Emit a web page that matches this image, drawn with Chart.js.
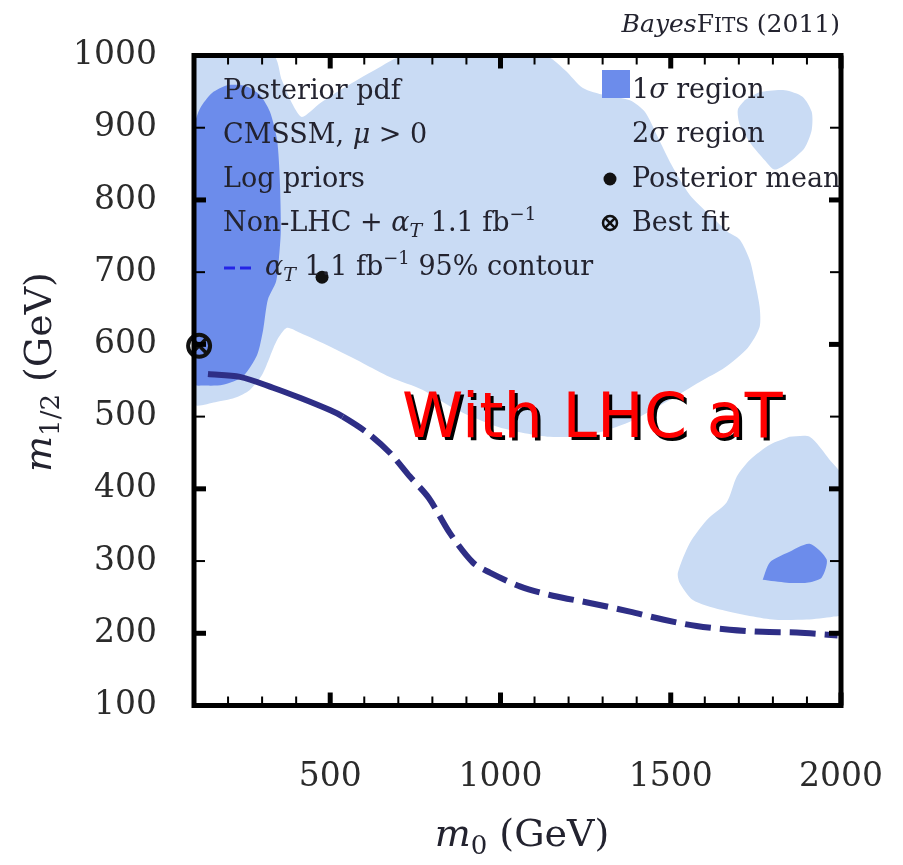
<!DOCTYPE html>
<html>
<head>
<meta charset="utf-8">
<script src="https://cdn.jsdelivr.net/npm/chart.js@4.4.0/dist/chart.umd.min.js"></script>
<style>
  html, body { margin: 0; padding: 0; background: #ffffff; }
  #wrap { width: 903px; height: 865px; }
</style>
</head>
<body>
<div id="wrap"><canvas id="c" width="903" height="865"></canvas></div>
<script>
// CMSSM posterior in the (m0, m1/2) plane, values in GeV
const X_MIN = 100, X_MAX = 2000;
const Y_MIN = 100, Y_MAX = 1000;
const xTickValues = [500, 1000, 1500, 2000];
const yTickValues = [100, 200, 300, 400, 500, 600, 700, 800, 900, 1000];

// 2 sigma credible region: large low-m0 lobe
const sigma2MainM0  = [100, 332, 358, 391, 417, 470, 543, 631, 719, 1130, 1189, 1242, 1306, 1380, 1424, 1459, 1503, 1556, 1615, 1667, 1703, 1732, 1747, 1761, 1761, 1726, 1659, 1585, 1497, 1380, 1262, 1145, 998, 872, 772, 675, 596, 499, 411, 373, 344, 323, 300, 264, 220, 162, 100, 100];
const sigma2MainM12 = [1000, 1000, 966, 931, 915, 934, 956, 980, 1000, 1000, 980, 955, 945, 938, 922, 890, 848, 807, 779, 756, 745, 717, 687, 652, 624, 595, 568, 548, 523, 493, 475, 472, 485, 509, 537, 555, 574, 597, 616, 623, 606, 583, 558, 537, 526, 520, 518, 1000];

// 2 sigma island at high m0, high m1/2
const sigma2IslandM0  = [1717, 1761, 1835, 1887, 1914, 1914, 1893, 1849, 1805, 1776, 1738, 1703, 1697, 1717];
const sigma2IslandM12 = [938, 949, 952, 943, 922, 897, 872, 853, 842, 855, 876, 904, 925, 938];

// 2 sigma lobe at high m0, low m1/2
const sigma2FocusM0  = [1849, 1908, 1967, 2000, 2000, 1976, 1899, 1799, 1644, 1565, 1526, 1521, 1556, 1606, 1664, 1694, 1732, 1791, 1849];
const sigma2FocusM12 = [472, 472, 440, 419, 226, 223, 219, 219, 233, 246, 270, 284, 325, 357, 381, 417, 440, 461, 472];

// 1 sigma credible regions
const sigma1StripM0  = [100, 118, 153, 200, 250, 294, 323, 344, 352, 355, 349, 341, 317, 303, 285, 244, 185, 126, 100, 100];
const sigma1StripM12 = [904, 927, 948, 959, 958, 945, 922, 883, 828, 758, 717, 687, 662, 620, 585, 556, 544, 543, 545, 904];
const sigma1FocusM0  = [1770, 1791, 1841, 1908, 1958, 1943, 1899, 1841, 1770];
const sigma1FocusM12 = [274, 298, 311, 324, 302, 277, 270, 270, 274];

// alphaT 1.1 fb^-1 95% exclusion contour
const contourM0  = [141, 235, 332, 411, 499, 537, 608, 675, 734, 790, 851, 919, 969, 1057, 1154, 1262, 1380, 1477, 1576, 1673, 1770, 1870, 1990];
const contourM12 = [559, 555, 540, 526, 509, 500, 478, 450, 417, 387, 339, 298, 284, 265, 252, 242, 230, 219, 210, 205, 202, 201, 197];

// posterior mean and best-fit point
const posteriorMean = [476, 693];
const bestFit = [115, 598];

const LIGHT = '#C9DBF4';
const DARK = '#6C8CEB';
const NAVY = '#2E2E86';
const TEXT = '#23232f';
const SERIF = '"DejaVu Serif", serif';

const pts = (xs, ys) => xs.map((v, i) => ({ x: v, y: ys[i] }));

function region(xs, ys, color, order) {
  return {
    data: pts(xs, ys), showLine: true, fill: 'shape',
    backgroundColor: color, borderColor: color, borderWidth: 0,
    pointRadius: 0, tension: 0.25, order
  };
}

function richText(ctx, x, y, parts, base) {
  let cx = x;
  for (const p of parts) {
    ctx.font = (p.it ? 'italic ' : '') + (p.size || base) + 'px ' + (p.fam || SERIF);
    ctx.fillText(p.t, cx, y + (p.dy || 0));
    cx += ctx.measureText(p.t).width;
  }
  return cx;
}
function richWidth(ctx, parts, base) {
  let w = 0;
  for (const p of parts) {
    ctx.font = (p.it ? 'italic ' : '') + (p.size || base) + 'px ' + (p.fam || SERIF);
    w += ctx.measureText(p.t).width;
  }
  return w;
}

const decor = {
  id: 'decor',
  afterDatasetsDraw(chart) {
    const { ctx, chartArea: a, scales: { x, y } } = chart;
    ctx.save();
    ctx.strokeStyle = '#000';
    ctx.lineCap = 'butt';
    const seg = (x1, y1, x2, y2) => { ctx.beginPath(); ctx.moveTo(x1, y1); ctx.lineTo(x2, y2); ctx.stroke(); };

    // inward tick marks on all four sides
    for (let v = X_MIN; v <= X_MAX; v += 100) {
      const px = x.getPixelForValue(v);
      const major = v % 500 === 0;
      ctx.lineWidth = major ? 5 : 2;
      const len = major ? 13 : 9;
      seg(px, a.bottom, px, a.bottom - len);
      seg(px, a.top, px, a.top + len);
    }
    for (let v = Y_MIN; v <= Y_MAX; v += 100) {
      const py = y.getPixelForValue(v);
      const major = v % 200 === 0;
      ctx.lineWidth = major ? 5 : 2;
      const len = major ? 12 : 11;
      seg(a.left, py, a.left + len, py);
      seg(a.right, py, a.right - len, py);
    }
    // frame
    ctx.lineWidth = 5;
    ctx.strokeRect(a.left, a.top, a.right - a.left, a.bottom - a.top);

    // left text block
    ctx.fillStyle = TEXT;
    ctx.textBaseline = 'alphabetic';
    ctx.textAlign = 'left';
    const B = 27;
    richText(ctx, 223, 99, [{ t: 'Posterior pdf' }], B);
    richText(ctx, 223, 143, [{ t: 'CMSSM, ' }, { t: 'μ', it: true }, { t: ' > 0' }], B);
    richText(ctx, 223, 187, [{ t: 'Log priors' }], B);
    richText(ctx, 223, 231, [
      { t: 'Non-LHC + ' }, { t: 'α', it: true }, { t: 'T', it: true, size: 19, dy: 6 },
      { t: ' 1.1 fb' }, { t: '−1', size: 18, dy: -11 }
    ], B);
    ctx.strokeStyle = '#2424E6';
    ctx.lineWidth = 3;
    seg(224, 268, 235, 268);
    seg(240, 268, 251, 268);
    richText(ctx, 265, 275, [
      { t: 'α', it: true }, { t: 'T', it: true, size: 19, dy: 6 },
      { t: ' 1.1 fb' }, { t: '−1', size: 18, dy: -11 }, { t: ' 95% contour' }
    ], B);

    // right text block (key)
    ctx.fillStyle = DARK;
    ctx.fillRect(602, 70, 28, 28);
    ctx.fillStyle = TEXT;
    richText(ctx, 632, 98, [{ t: '1' }, { t: 'σ', it: true }, { t: ' region' }], B);
    richText(ctx, 632, 142, [{ t: '2' }, { t: 'σ', it: true }, { t: ' region' }], B);
    ctx.fillStyle = '#111';
    ctx.beginPath(); ctx.arc(610, 179, 6.5, 0, Math.PI * 2); ctx.fill();
    ctx.fillStyle = TEXT;
    richText(ctx, 632, 187, [{ t: 'Posterior mean' }], B);
    ctx.strokeStyle = '#111';
    ctx.lineWidth = 2.5;
    ctx.beginPath(); ctx.arc(610, 223, 7, 0, Math.PI * 2); ctx.stroke();
    const d = 7 * Math.SQRT1_2;
    seg(610 - d, 223 - d, 610 + d, 223 + d);
    seg(610 - d, 223 + d, 610 + d, 223 - d);
    richText(ctx, 632, 231, [{ t: 'Best fit' }], B);

    // credit line
    const credit = [{ t: 'Bayes', it: true }, { t: 'F' }, { t: 'ITS', size: 20 }, { t: ' (2011)' }];
    richText(ctx, 840 - richWidth(ctx, credit, 25), 32, credit, 25);

    // axis titles
    const xt = [{ t: 'm', it: true }, { t: '0', size: 26, dy: 8 }, { t: ' (GeV)' }];
    richText(ctx, 522 - richWidth(ctx, xt, 38) / 2, 846, xt, 38);
    const yt = [{ t: 'm', it: true }, { t: '1/2', size: 26, dy: 8 }, { t: ' (GeV)' }];
    ctx.save();
    ctx.translate(51, 372);
    ctx.rotate(-Math.PI / 2);
    richText(ctx, -richWidth(ctx, yt, 38) / 2, 0, yt, 38);
    ctx.restore();

    // overlay caption
    ctx.font = '62px "DejaVu Sans", sans-serif';
    ctx.fillStyle = '#000';
    ctx.fillText('With LHC aT', 405, 440);
    ctx.fillStyle = '#FF0000';
    ctx.fillText('With LHC aT', 402, 437);
    ctx.restore();
  }
};

new Chart(document.getElementById('c'), {
  type: 'scatter',
  data: {
    datasets: [
      region(sigma2MainM0, sigma2MainM12, LIGHT, 6),
      region(sigma2IslandM0, sigma2IslandM12, LIGHT, 6),
      region(sigma2FocusM0, sigma2FocusM12, LIGHT, 6),
      region(sigma1StripM0, sigma1StripM12, DARK, 5),
      region(sigma1FocusM0, sigma1FocusM12, DARK, 5),
      {
        data: pts(contourM0, contourM12), showLine: true, fill: false,
        borderColor: NAVY, borderWidth: 6, pointRadius: 0, tension: 0.3,
        borderCapStyle: 'butt', order: 3,
        segment: { borderDash: c => (c.p0.parsed.x >= 537 ? [26, 9] : undefined) }
      },
      {
        data: [{ x: posteriorMean[0], y: posteriorMean[1] }],
        pointStyle: 'circle', pointRadius: 6.5, backgroundColor: '#111',
        borderWidth: 0, clip: false, order: 1
      },
      {
        data: [{ x: bestFit[0], y: bestFit[1] }],
        pointStyle: 'circle', pointRadius: 11, backgroundColor: 'rgba(0,0,0,0)',
        borderColor: '#111', pointBorderWidth: 4, clip: false, order: 1
      },
      {
        data: [{ x: bestFit[0], y: bestFit[1] }],
        pointStyle: 'crossRot', pointRadius: 11, borderColor: '#111',
        pointBorderWidth: 3.5, clip: false, order: 0
      }
    ]
  },
  options: {
    responsive: false,
    animation: false,
    events: [],
    layout: { padding: { top: 55.5, right: 62, left: 0, bottom: 0 } },
    plugins: { legend: { display: false }, tooltip: { enabled: false } },
    scales: {
      x: {
        type: 'linear', min: X_MIN, max: X_MAX,
        afterBuildTicks: s => { s.ticks = xTickValues.map(v => ({ value: v })); },
        afterFit: s => { s.height = 865 - 705.5; s.paddingLeft = 0; s.paddingRight = 0; },
        grid: { display: false, drawTicks: false },
        border: { display: false },
        ticks: {
          font: { family: SERIF, size: 33 }, color: '#2b2b2b', padding: 52,
          maxRotation: 0, autoSkip: false, callback: v => String(v)
        }
      },
      y: {
        type: 'linear', min: Y_MIN, max: Y_MAX,
        afterBuildTicks: s => { s.ticks = yTickValues.map(v => ({ value: v })); },
        afterFit: s => { s.width = 194; s.paddingTop = 0; s.paddingBottom = 0; },
        grid: { display: false, drawTicks: false },
        border: { display: false },
        ticks: {
          font: { family: SERIF, size: 33 }, color: '#2b2b2b', padding: 37,
          autoSkip: false, callback: v => String(v)
        }
      }
    }
  },
  plugins: [decor]
});
</script>
</body>
</html>
